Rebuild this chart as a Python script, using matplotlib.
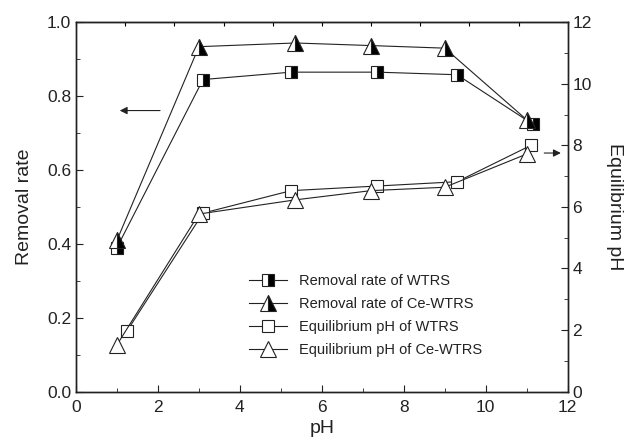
import matplotlib
matplotlib.use("Agg")
import matplotlib.pyplot as plt
from matplotlib.ticker import MultipleLocator

plt.rcParams['font.family'] = ['Liberation Sans', 'DejaVu Sans']

# removal rate (left axis)
ph_rm_wtrs = [1.0, 3.1, 5.25, 7.35, 9.3, 11.15]
rm_wtrs = [0.39, 0.845, 0.865, 0.865, 0.858, 0.724]
ph_rm_ce = [1.0, 3.0, 5.35, 7.2, 9.0, 11.0]
rm_ce = [0.41, 0.934, 0.944, 0.937, 0.930, 0.736]

# equilibrium pH (right axis)
ph_eq_wtrs = [1.25, 3.1, 5.25, 7.35, 9.3, 11.1]
eq_wtrs = [1.98, 5.8, 6.53, 6.68, 6.82, 8.0]
ph_eq_ce = [1.0, 3.0, 5.35, 7.2, 9.0, 11.0]
eq_ce = [1.52, 5.77, 6.23, 6.53, 6.64, 7.72]

labels = ["Removal rate of WTRS", "Removal rate of Ce-WTRS",
          "Equilibrium pH of WTRS", "Equilibrium pH of Ce-WTRS"]

fig = plt.figure(figsize=(6.28, 4.46), dpi=100)
ax = fig.add_axes([0.121, 0.122, 0.783, 0.828])
ax2 = ax.twinx()

lc = '#222222'
lw = 0.8
h1, = ax.plot(ph_rm_wtrs, rm_wtrs, color=lc, lw=lw, marker='s', ms=9,
              fillstyle='right', mfc='black', mfcalt='white', mec=lc, mew=0.8)
h2, = ax.plot(ph_rm_ce, rm_ce, color=lc, lw=lw, marker='^', ms=11,
              fillstyle='right', mfc='black', mfcalt='white', mec=lc, mew=0.8)
h3, = ax2.plot(ph_eq_wtrs, eq_wtrs, color=lc, lw=lw, marker='s', ms=9,
               mfc='white', mec=lc, mew=0.8)
h4, = ax2.plot(ph_eq_ce, eq_ce, color=lc, lw=lw, marker='^', ms=11,
               mfc='white', mec=lc, mew=0.8)

ax.set_xlim(0, 12)
ax.set_ylim(0, 1.0)
ax2.set_ylim(0, 12)

ax.xaxis.set_major_locator(MultipleLocator(2))
ax.xaxis.set_minor_locator(MultipleLocator(1))
ax.yaxis.set_major_locator(MultipleLocator(0.2))
ax.yaxis.set_minor_locator(MultipleLocator(0.1))
ax2.yaxis.set_major_locator(MultipleLocator(2))
ax2.yaxis.set_minor_locator(MultipleLocator(1))

ax.tick_params(which='both', direction='in', labelsize=12.5, colors='#222222')
ax.tick_params(which='major', length=5)
ax.tick_params(which='minor', length=3)
ax.tick_params(axis='x', which='major', pad=6)
ax2.tick_params(which='both', direction='in', labelsize=12.5, colors='#222222')
ax2.tick_params(which='major', length=5)
ax2.tick_params(which='minor', length=3)
ax.yaxis.set_major_formatter(matplotlib.ticker.FormatStrFormatter('%.1f'))

# top spine ticks
top = ax.secondary_xaxis('top')
top.set_xticks([1.2 * i for i in range(11)])
top.tick_params(direction='in', length=3, labeltop=False)

for a in (ax, ax2):
    for s in a.spines.values():
        s.set_color('#222222')
        s.set_linewidth(1.0)

ax.set_xlabel("pH", fontsize=14, color='#222222')
ax.set_ylabel("Removal rate", fontsize=14, color='#222222', labelpad=10)
ax2.set_ylabel("Equilibrium pH", fontsize=14, color='#222222', rotation=270,
               labelpad=22)

# arrows pointing to the matching axis
ax.annotate("", xy=(1.0, 0.761), xytext=(2.12, 0.761),
            arrowprops=dict(arrowstyle='-|>', color='#222222', lw=0.8,
                            mutation_scale=11))
ax.annotate("", xy=(11.9, 0.646), xytext=(11.36, 0.646),
            arrowprops=dict(arrowstyle='-|>', color='#222222', lw=0.8,
                            mutation_scale=11))

leg = ax.legend([h1, h2, h3, h4], labels, loc='upper left',
                bbox_to_anchor=(0.325, 0.353), frameon=False, fontsize=10.5,
                handlelength=2.6, handletextpad=0.8, labelspacing=0.6,
                numpoints=1)
for t in leg.get_texts():
    t.set_color('#222222')

fig.savefig("out.png", dpi=100)
